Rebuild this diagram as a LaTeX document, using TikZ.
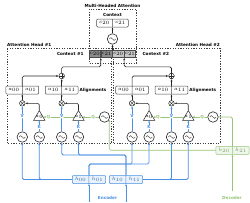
\documentclass[tikz,border=0pt]{standalone}
\usepackage{fontspec}
\setmainfont{DejaVu Sans}
\usetikzlibrary{arrows.meta,positioning,shapes.geometric,shapes.multipart,backgrounds}

\definecolor{encblue}{RGB}{74,144,226}
\definecolor{decgreen}{RGB}{150,196,120}

\begin{document}
\begin{tikzpicture}[x=1pt, y=-1pt,
    font=\fontsize{4.2}{5}\selectfont\bfseries,
    frame/.style={draw=black!75, line width=.8pt, dash pattern=on 1.3pt off 1.3pt},
    pair/.style={rectangle split, rectangle split horizontal, rectangle split parts=2,
        draw=black!70, fill=white, rounded corners=1pt, line width=.5pt,
        inner xsep=2.5pt, inner ysep=1pt, minimum height=8pt,
        font=\fontsize{4.5}{5}\selectfont},
    encbox/.style={pair, draw=encblue, fill=encblue!12, text=encblue!70!black},
    decbox/.style={pair, draw=decgreen, fill=decgreen!15, text=decgreen!80!black},
    cell/.style={draw=black!70, line width=.5pt, minimum width=11.2pt,
        minimum height=7.6pt, inner sep=0pt, font=\fontsize{4.5}{5}\selectfont},
    act/.style={circle, draw=black!85, fill=white, line width=.6pt,
        minimum size=10.5pt, inner sep=0pt,
        path picture={\draw[line width=.35pt]
            ([xshift=-3.2pt]path picture bounding box.center)
            sin ++(1.6pt,1.4pt) cos ++(1.6pt,-1.4pt)
            sin ++(1.6pt,-1.4pt) cos ++(1.6pt,1.4pt);}},
    op/.style={circle, draw=black!85, fill=white, line width=.5pt,
        minimum size=5.6pt, inner sep=0pt},
    mul/.style={op, path picture={\draw[line width=.35pt]
            (path picture bounding box.north west) -- (path picture bounding box.south east)
            (path picture bounding box.south west) -- (path picture bounding box.north east);}},
    add/.style={op, path picture={\draw[line width=.35pt]
            (path picture bounding box.north) -- (path picture bounding box.south)
            (path picture bounding box.west) -- (path picture bounding box.east);}},
    tri/.style={regular polygon, regular polygon sides=3, draw=black!85, fill=white,
        line width=.5pt, minimum size=13pt, inner sep=0pt,
        font=\fontsize{3.8}{4}\selectfont},
    lbl/.style={inner sep=.5pt},
    arr/.style={-{Latex[length=2.2pt,width=2pt]}, line width=.6pt, black!85,
        rounded corners=1.5pt},
    barr/.style={arr, encblue, line width=.8pt},
    garr/.style={arr, decgreen, line width=.7pt}
]
\useasboundingbox (0,0) rectangle (250,202);

% dashed frames
\begin{scope}[on background layer]
\draw[frame] (89,9) rectangle (136.5,63);
\draw[frame] (7,48.3) rectangle (111.5,143.3);
\draw[frame] (113,48.3) rectangle (220,143.3);
\end{scope}

\node (title) at (112.5,5.5) {Multi-Headed Attention};
\node (ctxlbl) at (112.5,15) {Context};
\node[pair] (ctx) at (112.5,23) {$c_{20}$\nodepart{two}$c_{21}$};
\node[act] (mix) at (112.5,39) {};

\node[anchor=west, inner sep=0pt] (h1lbl) at (7,44.5) {Attention Head \#1};
\node[anchor=east, inner sep=0pt] (h2lbl) at (220,44.5) {Attention Head \#2};

% concatenated contexts
\node[cell, fill=black!45, anchor=east] (c1b) at (112.5,53.8) {$c_{21}$};
\node[cell, fill=black!45, left=0pt of c1b] (c1a) {$c_{20}$};
\node[cell, fill=black!22, right=0pt of c1b] (c2a) {$c_{20}$};
\node[cell, fill=black!22, right=0pt of c2a] (c2b) {$c_{21}$};
\node[anchor=east] (h1ctx) at (87,53.8) {Context \#1};
\node[anchor=west] (h2ctx) at (139,53.8) {Context \#2};

\draw[arr] (c1b.north east) -- (mix);
\draw[arr] (mix) -- (ctx);

% one attention head
\foreach \h/\dx/\qx in {1/0/104.5, 2/109.8/213} {
  \node[act] (v\h0) at (22.3+\dx,137) {};
  \node[act] (k\h0) at (39.3+\dx,137) {};
  \node[act] (v\h1) at (61.7+\dx,137) {};
  \node[act] (k\h1) at (78.5+\dx,137) {};
  \node[act] (q\h) at (\qx,117) {};
  \node[tri] (t\h0) at (k\h0 |- q\h) {\smash{\makebox[0pt]{$a_0$}}};
  \node[tri] (t\h1) at (k\h1 |- q\h) {\smash{\makebox[0pt]{$a_1$}}};
  \node[mul] (m\h0) at (v\h0 |- 0,103.3) {};
  \node[mul] (m\h1) at (v\h1 |- 0,103.3) {};
  \node[pair] (a\h0) at (v\h0 |- 0,90) {$a_{00}$\nodepart{two}$a_{01}$};
  \node[pair] (a\h1) at (v\h1 |- 0,90) {$a_{10}$\nodepart{two}$a_{11}$};
  \node[add] (s\h) at (v\h1 |- 0,76) {};
  \node (al\h) at (93+\dx,90) {Alignments};

  \begin{scope}[on background layer]
  \draw[garr] (q\h) -- node[lbl, fill=white, pos=.91] (lq\h0) {Q} (t\h0);
  \draw[garr] (q\h) -- node[lbl, fill=white, pos=.35] (lq\h1) {Q} (t\h1);
  \end{scope}
  \draw[barr] (v\h0) -- node[lbl, fill=white, pos=.6] (lv\h0) {V} (m\h0);
  \draw[barr] (v\h1) -- node[lbl, fill=white, pos=.6] (lv\h1) {V} (m\h1);
  \draw[barr] (k\h0) -- node[lbl, fill=white, pos=.4] (lk\h0) {K} (t\h0);
  \draw[barr] (k\h1) -- node[lbl, fill=white, pos=.4] (lk\h1) {K} (t\h1);
  \draw[arr] (t\h0.corner 1) |- (m\h0);
  \draw[arr] (t\h1.corner 1) |- (m\h1);
  \draw[arr] (m\h0) -- (a\h0);
  \draw[arr] (m\h1) -- (a\h1);
  \draw[arr] (a\h0) |- (s\h);
  \draw[arr] (a\h1) -- (s\h);
}

\draw[arr] (s1) |- ([yshift=-9pt]c1a.south east) -- (c1a.south east);
\draw[arr] (s2) |- ([yshift=-9pt]c2a.south east) -- (c2a.south east);

% encoder and decoder inputs
\node[encbox] (enc1) at (89,179.5) {$h_{00}$\nodepart{two}$h_{01}$};
\node[encbox] (enc2) at (126,179.5) {$h_{10}$\nodepart{two}$h_{11}$};
\node[decbox] (dec) at (232.5,150.3) {$h_{20}$\nodepart{two}$h_{21}$};
\node[text=encblue] (enclbl) at (107.5,197.5) {Encoder};
\node[text=decgreen] (declbl) at (232,197.5) {Decoder};
\coordinate (ein1) at (89,202);
\coordinate (ein2) at (126,202);
\coordinate (din) at (232.5,191);

\draw[barr] (ein1) -- (enc1);
\draw[barr] (ein2) -- (enc2);
\draw[garr] (din) -- (dec);

\draw[barr] (enc1.west) -| (v10);
\draw[barr] (enc1.west) -| (k10);
\draw[barr] (enc1.north) -- (enc1.north |- 0,164) -| (v20);
\draw[barr] (enc1.north) -- (enc1.north |- 0,164) -| (k20);
\draw[barr] (enc2.north) -- (enc2.north |- 0,155) -| (v11);
\draw[barr] (enc2.north) -- (enc2.north |- 0,155) -| (k11);
\draw[barr] (enc2.east) -| (v21);
\draw[barr] (enc2.east) -| (k21);

\draw[garr] (dec.west) -| (q1.-30);
\draw[garr] (dec.north) |- (q2);
\end{tikzpicture}
\end{document}
